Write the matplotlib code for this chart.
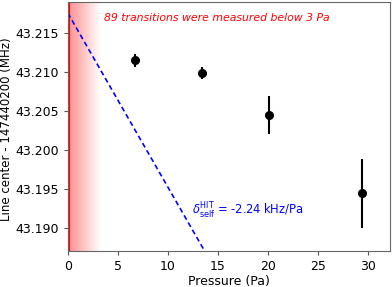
import numpy as np
import matplotlib
matplotlib.use('Agg')
import matplotlib.pyplot as plt

# 데이터
pressure = [6.7, 13.4, 20.1, 29.4]
center = [43.2115, 43.2099, 43.2045, 43.1944]
center_err = [0.0008, 0.00075, 0.0024, 0.0044]

fit_intercept = 43.2176
fit_slope = -0.00224   # MHz/Pa
low_p_limit = 3.2

fig = plt.figure(figsize=(3.92, 2.87), dpi=100)
ax = fig.add_axes([0.173, 0.127, 0.822, 0.866])

xlim = (0, 32.2)
ylim = (43.18704, 43.21902)

# 저압 영역 그라데이션
grad = np.zeros((1, 256, 4))
grad[..., 0] = 1.0
grad[..., 3] = np.linspace(0.45, 0.0, 256)
ax.imshow(grad, extent=(0, low_p_limit, ylim[0], ylim[1]), aspect='auto', zorder=0)
ax.axvline(0, color='red', lw=3, zorder=1)

# 선형 피팅 (점선)
xs = np.array([0, 20])
ax.plot(xs, fit_intercept + fit_slope * xs, '--', color='blue', lw=1.2,
        dashes=(3, 2), zorder=2)

ax.errorbar(pressure, center, yerr=center_err, fmt='o', color='black',
            ms=5.5, elinewidth=1.5, capsize=0, zorder=3)

ax.text(3.6, 43.2170, '89 transitions were measured below 3 Pa', color='red',
        style='italic', fontsize=7.8, va='center')
ax.text(12.4, 43.1921, r'$\delta_{\mathrm{self}}^{\mathrm{HIT}}$ = -2.24 kHz/Pa',
        color='blue', fontsize=8.3, va='center')

ax.set_xlim(xlim)
ax.set_ylim(ylim)
ax.set_xticks([0, 5, 10, 15, 20, 25, 30])
ax.set_yticks([43.190, 43.195, 43.200, 43.205, 43.210, 43.215])
ax.set_yticklabels(['43.190', '43.195', '43.200', '43.205', '43.210', '43.215'])
ax.tick_params(labelsize=9, length=3, color='#555555')
for s in ax.spines.values():
    s.set_color('#666666')
ax.set_xlabel('Pressure (Pa)', fontsize=9, labelpad=2)
ax.set_ylabel('Line center - 147440200 (MHz)', fontsize=8.5)
ax.yaxis.set_label_coords(-0.171, 0.49)

fig.savefig('out.png', dpi=100)
